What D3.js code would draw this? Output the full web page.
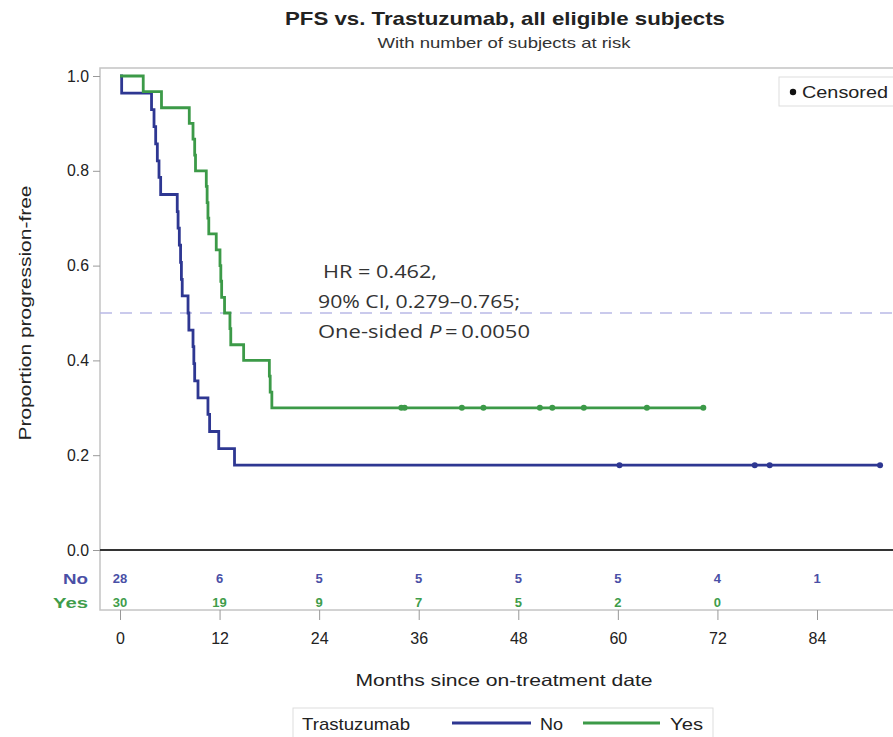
<!DOCTYPE html>
<html><head><meta charset="utf-8">
<script src="https://cdn.jsdelivr.net/npm/d3@7"></script>
<style>html,body{margin:0;padding:0;background:#fff;overflow:hidden}</style>
</head><body>
<svg id="chart" width="893" height="737"></svg>
<script>
// ---- data ----
const noTimes  = [0, 0.2, 3.8, 4.1, 4.3, 4.5, 4.7, 4.9, 6.9, 7.0, 7.15, 7.3, 7.4, 7.5, 8.2, 8.3, 8.8, 8.9, 9.0, 9.4, 10.6, 10.8, 11.9, 13.8];
const noSurv   = [1, 0.964, 0.929, 0.893, 0.857, 0.821, 0.786, 0.750, 0.714, 0.679, 0.643, 0.607, 0.571, 0.536, 0.500, 0.464, 0.429, 0.393, 0.357, 0.321, 0.286, 0.250, 0.214, 0.179];
const noCensor = [60.2, 76.5, 78.3, 91.6];
const yesTimes  = [0, 2.8, 5.0, 8.35, 8.8, 9.0, 9.1, 10.4, 10.5, 10.6, 10.7, 11.6, 12.05, 12.15, 12.25, 12.6, 13.25, 13.35, 14.9, 18.0, 18.1, 18.3];
const yesSurv   = [1, 0.967, 0.933, 0.900, 0.867, 0.833, 0.800, 0.767, 0.733, 0.700, 0.667, 0.633, 0.600, 0.567, 0.533, 0.500, 0.467, 0.433, 0.400, 0.367, 0.333, 0.300];
const yesCensor = [33.9, 34.3, 41.2, 43.8, 50.6, 52.1, 55.9, 63.5, 70.3];
const riskTimes = [0, 12, 24, 36, 48, 60, 72, 84];
const riskNo    = [28, 6, 5, 5, 5, 5, 4, 1];
const riskYes   = [30, 19, 9, 7, 5, 2, 0, null];
const xTicks = [0, 12, 24, 36, 48, 60, 72, 84];
const yTicks = [0, 0.2, 0.4, 0.6, 0.8, 1.0];
const refLine = 0.5;

// ---- layout ----
const colNo = "#2e3792", colYes = "#3c9a48";
const colNoTxt = "#4a4fa6", colYesTxt = "#3f9d4b";
const font = "'Liberation Sans', Arial, sans-serif";
const svg = d3.select("#chart");
const x = d3.scaleLinear().domain([0, 84]).range([120, 817]);
const y = d3.scaleLinear().domain([0, 1]).range([550, 76]);
const frameL = 100, frameT = 68, frameR = 910, frameB = 610;

function txt(sel, o) {
  const t = sel.append("text").attr("x", o.x).attr("y", o.y)
    .attr("font-family", o.family || font).attr("font-size", o.size)
    .attr("fill", o.fill || "#222").attr("text-anchor", o.anchor || "start");
  if (o.bold) t.attr("font-weight", "bold");
  if (o.len) t.attr("textLength", o.len).attr("lengthAdjust", "spacingAndGlyphs");
  if (o.transform) t.attr("transform", o.transform);
  if (o.text != null) t.text(o.text);
  return t;
}

// titles
txt(svg, {x: 505, y: 25, anchor: "middle", size: 19, bold: true, len: 440, text: "PFS vs. Trastuzumab, all eligible subjects"});
txt(svg, {x: 504, y: 48, anchor: "middle", size: 14.5, len: 253, fill: "#333", text: "With number of subjects at risk"});

// frame
svg.append("rect").attr("x", frameL).attr("y", frameT).attr("width", frameR - frameL).attr("height", frameB - frameT)
  .attr("fill", "none").attr("stroke", "#c4c4c4").attr("stroke-width", 1.5);

// y axis
const yAxis = d3.axisLeft(y).tickValues(yTicks).tickFormat(d3.format(".1f")).tickSize(7).tickPadding(4);
const gy = svg.append("g").attr("transform", `translate(${frameL},0)`).call(yAxis);
gy.select(".domain").remove();
gy.selectAll("line").attr("stroke", "#999");
gy.selectAll("text").attr("font-family", font).attr("font-size", 16).attr("fill", "#222")
  .attr("textLength", 22).attr("lengthAdjust", "spacingAndGlyphs");

txt(svg, {x: 0, y: 0, anchor: "middle", size: 16.5, len: 255, transform: `translate(31,${y(0.5)}) rotate(-90)`, text: "Proportion progression-free"});

// x axis (below risk table)
const xAxis = d3.axisBottom(x).tickValues(xTicks).tickSize(10).tickPadding(13);
const gx = svg.append("g").attr("transform", `translate(0,${frameB})`).call(xAxis);
gx.select(".domain").remove();
gx.selectAll("line").attr("stroke", "#999");
gx.selectAll("text").attr("font-family", font).attr("font-size", 16).attr("fill", "#222");

txt(svg, {x: 504, y: 686, anchor: "middle", size: 16.5, len: 297, text: "Months since on-treatment date"});

// zero line
svg.append("line").attr("x1", frameL).attr("x2", frameR).attr("y1", y(0)).attr("y2", y(0))
  .attr("stroke", "#333").attr("stroke-width", 2);

// reference dashed line
svg.append("line").attr("x1", frameL).attr("x2", frameR).attr("y1", y(refLine)).attr("y2", y(refLine))
  .attr("stroke", "#b9b9e6").attr("stroke-width", 1.5).attr("stroke-dasharray", "12,8");

// curves
function stepLookup(times, surv, t) {
  let s = surv[0];
  for (let i = 0; i < times.length; i++) if (times[i] <= t) s = surv[i];
  return s;
}
const line = d3.line().x(d => x(d[0])).y(d => y(d[1])).curve(d3.curveStepAfter);
function drawSeries(times, surv, censor, col) {
  const pts = times.map((t, i) => [t, surv[i]]);
  const end = d3.max(censor);
  pts.push([end, stepLookup(times, surv, end)]);
  svg.append("path").datum(pts).attr("d", line).attr("fill", "none")
    .attr("stroke", col).attr("stroke-width", 2.8).attr("stroke-linejoin", "miter");
  svg.selectAll(null).data(censor).enter().append("circle")
    .attr("cx", d => x(d)).attr("cy", d => y(stepLookup(times, surv, d)))
    .attr("r", 3).attr("fill", col);
}
drawSeries(noTimes, noSurv, noCensor, colNo);
drawSeries(yesTimes, yesSurv, yesCensor, colYes);

// annotation
const annFont = "'Open Sans', sans-serif";
txt(svg, {x: 323, y: 278, size: 19, family: annFont, fill: "#333", len: 114, text: "HR = 0.462,"});
txt(svg, {x: 318, y: 308, size: 19, family: annFont, fill: "#333", len: 202, text: "90% CI, 0.279\u20130.765;"});
const t3 = txt(svg, {x: 318, y: 338, size: 19, family: annFont, fill: "#333", len: 212});
t3.append("tspan").text("One-sided ");
t3.append("tspan").attr("font-style", "italic").text("P");
t3.append("tspan").text("\u2009=\u20090.0050");

// risk table
txt(svg, {x: 88, y: 584, anchor: "end", size: 15, bold: true, fill: colNoTxt, len: 25, text: "No"});
txt(svg, {x: 88, y: 608, anchor: "end", size: 15, bold: true, fill: colYesTxt, len: 35, text: "Yes"});
svg.selectAll(null).data(riskTimes.map((t, i) => [t, riskNo[i]]).filter(d => d[1] != null)).enter().append("text")
  .attr("x", d => x(d[0])).attr("y", 583).attr("text-anchor", "middle").attr("font-family", font)
  .attr("font-weight", "bold").attr("font-size", 13).attr("fill", colNoTxt).text(d => d[1]);
svg.selectAll(null).data(riskTimes.map((t, i) => [t, riskYes[i]]).filter(d => d[1] != null)).enter().append("text")
  .attr("x", d => x(d[0])).attr("y", 607).attr("text-anchor", "middle").attr("font-family", font)
  .attr("font-weight", "bold").attr("font-size", 13).attr("fill", colYesTxt).text(d => d[1]);

// censored legend
svg.append("rect").attr("x", 779).attr("y", 77).attr("width", 130).attr("height", 29)
  .attr("fill", "#fff").attr("stroke", "#ddd");
svg.append("circle").attr("cx", 793).attr("cy", 92).attr("r", 3.2).attr("fill", "#111");
txt(svg, {x: 802, y: 98, size: 17, len: 86, text: "Censored"});

// bottom legend
svg.append("rect").attr("x", 293).attr("y", 708).attr("width", 420).attr("height", 30)
  .attr("fill", "#fff").attr("stroke", "#ddd");
txt(svg, {x: 302, y: 730, size: 17, len: 108, text: "Trastuzumab"});
svg.append("line").attr("x1", 452).attr("x2", 531).attr("y1", 723).attr("y2", 723).attr("stroke", colNo).attr("stroke-width", 2.8);
txt(svg, {x: 540, y: 730, size: 17, len: 23, text: "No"});
svg.append("line").attr("x1", 583).attr("x2", 660).attr("y1", 723).attr("y2", 723).attr("stroke", colYes).attr("stroke-width", 2.8);
txt(svg, {x: 670, y: 730, size: 17, len: 33, text: "Yes"});
</script>
</body></html>
